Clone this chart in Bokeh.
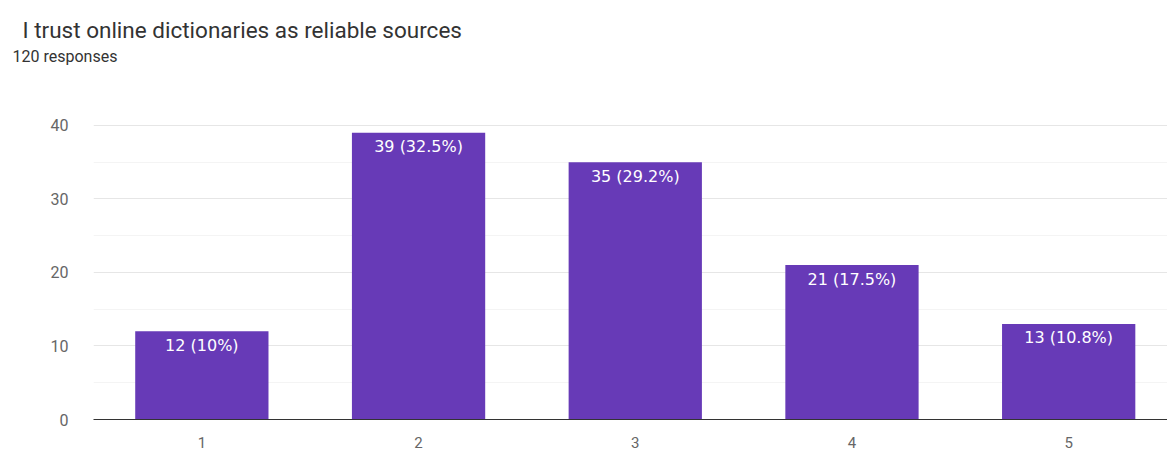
from bokeh.plotting import figure
from bokeh.models import ColumnDataSource, Title, FixedTicker, Range1d
from bokeh.core.properties import value
from bokeh.embed import file_html
from bokeh.resources import INLINE

title_text = "I trust online dictionaries as reliable sources"
subtitle_text = "120 responses"
categories = ["1", "2", "3", "4", "5"]
counts = [12, 39, 35, 21, 13]
bar_labels = ["12 (10%)", "39 (32.5%)", "35 (29.2%)", "21 (17.5%)", "13 (10.8%)"]
y_ticks = [0, 10, 20, 30, 40]
y_minor = [5, 15, 25, 35]

FONT = "Roboto"
x_pos = [int(c) for c in categories]
src = ColumnDataSource(dict(x=x_pos, top=counts, label=bar_labels))

p = figure(width=1167, height=450, output_backend="svg", toolbar_location=None,
           x_range=Range1d(0.5, 5.456), y_range=Range1d(0, 40.94),
           min_border_left=93, min_border_right=0, min_border_top=118, min_border_bottom=28)
p.outline_line_color = None
p.background_fill_color = "white"
p.border_fill_color = "white"

p.vbar(x="x", top="top", width=0.615, bottom=0, source=src,
       fill_color="#673ab7", line_color=None)
p.text(x="x", y="top", text="label", source=src, y_offset=14,
       text_align="center", text_baseline="middle", text_color="white",
       text_font=value("DejaVu Sans"), text_font_size="16px")

p.xgrid.grid_line_color = None
p.ygrid.ticker = FixedTicker(ticks=y_ticks, minor_ticks=y_minor)
p.ygrid.grid_line_color = "#e6e6e6"
p.ygrid.minor_grid_line_color = "#f4f4f4"

p.xaxis.ticker = FixedTicker(ticks=x_pos)
p.xaxis.major_label_overrides = {x: c for x, c in zip(x_pos, categories)}
p.xaxis.axis_line_color = "#333333"
p.xaxis.major_tick_line_color = None
p.xaxis.minor_tick_line_color = None
p.xaxis.major_label_standoff = 11
p.xaxis.major_label_text_font = FONT
p.xaxis.major_label_text_font_size = "15px"
p.xaxis.major_label_text_color = "#666666"

p.yaxis.ticker = FixedTicker(ticks=y_ticks)
p.yaxis.axis_line_color = None
p.yaxis.major_tick_line_color = None
p.yaxis.minor_tick_line_color = None
p.yaxis.major_label_standoff = 19
p.yaxis.major_label_text_font = FONT
p.yaxis.major_label_text_font_size = "16px"
p.yaxis.major_label_text_color = "#666666"

spacer = Title(text=" ", align="left", standoff=40, text_font=FONT,
               text_font_size="10px", text_font_style="normal")
sub = Title(text=subtitle_text, align="left", offset=-81, standoff=0,
            text_font=FONT, text_font_size="16px", text_color="#333333",
            text_font_style="normal")
main = Title(text=title_text, align="left", offset=-71, standoff=4,
             text_font=FONT, text_font_size="22.5px", text_color="#333333",
             text_font_style="normal")
p.add_layout(spacer, "above")
p.add_layout(sub, "above")
p.add_layout(main, "above")

open("out.html", "w").write(file_html(p, INLINE))
